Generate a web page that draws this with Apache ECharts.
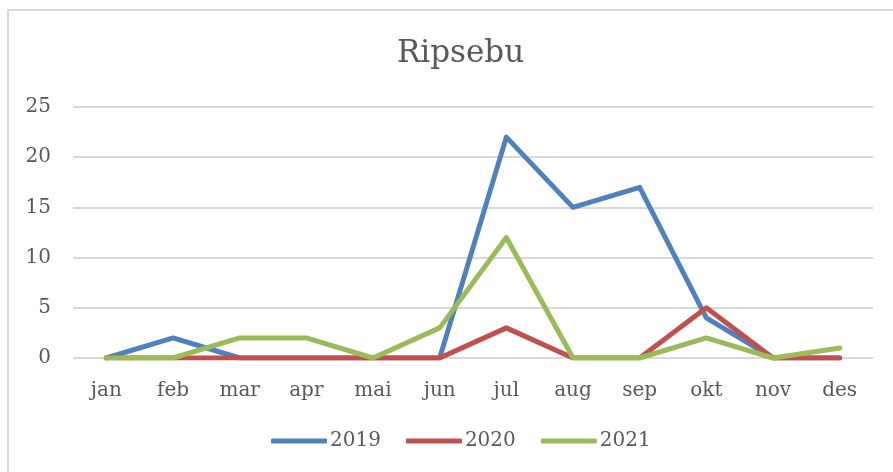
<!DOCTYPE html>
<html>
<head>
<meta charset="utf-8">
<script src="https://cdn.jsdelivr.net/npm/echarts@6/dist/echarts.min.js"></script>
<style>
  html, body { margin: 0; padding: 0; background: #fff; }
  #chart { width: 893px; height: 472px; }
</style>
</head>
<body>
<div id="chart"></div>
<script>
// data
var months = ["jan", "feb", "mar", "apr", "mai", "jun", "jul", "aug", "sep", "okt", "nov", "des"];
var years = ["2019", "2020", "2021"];
var v2019 = [0, 2, 0, 0, 0, 0, 22, 15, 17, 4, 0, 0];
var v2020 = [0, 0, 0, 0, 0, 0, 3, 0, 0, 5, 0, 0];
var v2021 = [0, 0, 2, 2, 0, 3, 12, 0, 0, 2, 0, 1];
var colors = ["#4f81bd", "#c0504d", "#9bbb59"];

var font = "DejaVu Serif";
var chart = echarts.init(document.getElementById("chart"));

var series = [v2019, v2020, v2021].map(function (d, i) {
  return {
    name: years[i],
    type: "line",
    data: d,
    symbol: "none",
    lineStyle: { width: 5, color: colors[i], cap: "round", join: "round" },
    itemStyle: { color: colors[i] },
  };
});

var option = {
  animation: false,
  title: {
    text: "Ripsebu",
    left: 392,
    top: 33,
    textStyle: { fontFamily: font, fontSize: 31, fontWeight: "normal", color: "#595959" },
  },
  graphic: [{
    type: "rect",
    shape: { x: 8, y: 10, width: 900, height: 480 },
    style: { fill: "none", stroke: "#d9d9d9", lineWidth: 2 },
  }],
  grid: { left: 73, right: 20, top: 107, bottom: 114 },
  legend: {
    bottom: 16,
    left: 266,
    icon: "roundRect",
    itemWidth: 56,
    itemHeight: 5,
    itemGap: 25,
    data: years,
    textStyle: { fontFamily: font, fontSize: 20, color: "#595959", padding: [0, 0, 0, -2] },
  },
  xAxis: {
    type: "category",
    data: months,
    boundaryGap: true,
    axisLine: { show: false },
    axisTick: { show: false },
    axisLabel: { fontFamily: font, fontSize: 20, color: "#595959", margin: 23 },
  },
  yAxis: {
    type: "value",
    min: 0,
    max: 25,
    interval: 5,
    axisLine: { show: false },
    axisTick: { show: false },
    axisLabel: { fontFamily: font, fontSize: 20, color: "#595959", margin: 22 },
    splitLine: { lineStyle: { color: "#d9d9d9", width: 2 } },
  },
  series: series,
};
chart.setOption(option);
</script>
</body>
</html>
